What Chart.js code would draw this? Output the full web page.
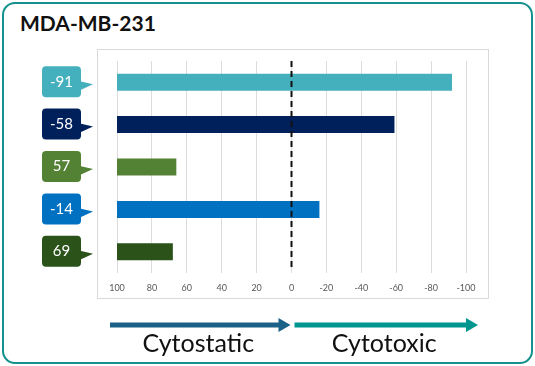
<!DOCTYPE html>
<html>
<head>
<meta charset="utf-8">
<script src="https://cdn.jsdelivr.net/npm/chart.js@4"></script>
<style>
  html, body { margin: 0; padding: 0; background: #fff; }
  body { width: 535px; height: 366px; position: relative; overflow: hidden; font-family: Lato, "Noto Sans", sans-serif; }
  .card { position: absolute; left: 2px; top: 2px; width: 527px; height: 358px; border: 2px solid #14918d; border-radius: 13px; }
  .title { position: absolute; left: 20px; top: 10px; font-size: 21px; font-weight: 700; color: #111; letter-spacing: 0; }
  #wrap { position: absolute; left: 0; top: 0; width: 535px; height: 366px; }
</style>
</head>
<body>
<div class="card"></div>
<div class="title">MDA-MB-231</div>
<div id="wrap"><canvas id="chart"></canvas></div>
<script>
const categories = ['A', 'B', 'C', 'D', 'E'];
const barValues = [-92, -59, 66, -16, 68];
const calloutLabels = ['-91', '-58', '57', '-14', '69'];
const colors = ['#45b0bd', '#00205b', '#548235', '#0070c0', '#2a5219'];
const xTicks = [100, 80, 60, 40, 20, 0, -20, -40, -60, -80, -100];
const arrowLabels = ['Cytostatic', 'Cytotoxic'];
const arrowColors = ['#1b6086', '#00968f'];

const extras = {
  id: 'extras',
  beforeDraw(chart) {
    const ctx = chart.ctx;
    ctx.save();
    ctx.strokeStyle = '#d9d9d9';
    ctx.lineWidth = 1;
    ctx.strokeRect(97.5, 49.5, 391, 249);
    ctx.restore();
  },
  afterDatasetsDraw(chart) {
    const ctx = chart.ctx;
    const x = chart.scales.x, y = chart.scales.y;
    const area = chart.chartArea;
    const x0 = x.getPixelForValue(0);

    // dashed zero line
    ctx.save();
    ctx.strokeStyle = '#111';
    ctx.lineWidth = 2;
    ctx.setLineDash([6, 4]);
    ctx.beginPath();
    ctx.moveTo(x0, area.top);
    ctx.lineTo(x0, area.bottom - 3);
    ctx.stroke();
    ctx.restore();

    // value callouts
    calloutLabels.forEach((txt, i) => {
      const yc = y.getPixelForValue(i);
      const left = 42, right = 81, top = yc - 16, bot = yc + 15;
      ctx.save();
      ctx.fillStyle = colors[i];
      ctx.beginPath();
      ctx.roundRect(left, top, right - left, bot - top, 4);
      ctx.fill();
      ctx.beginPath();
      ctx.moveTo(right - 1, yc - 1);
      ctx.lineTo(93, yc + 2);
      ctx.lineTo(right - 1, yc + 8);
      ctx.closePath();
      ctx.fill();
      ctx.fillStyle = '#fff';
      ctx.font = '15px Lato, "Noto Sans", sans-serif';
      ctx.textAlign = 'center';
      ctx.textBaseline = 'middle';
      ctx.fillText(txt, (left + right) / 2, yc - 0.5);
      ctx.restore();
    });

    // arrows below
    const ay = 325;
    const segs = [[110, x0 - 1], [x0 + 3, 478]];
    segs.forEach((s, i) => {
      ctx.save();
      ctx.fillStyle = arrowColors[i];
      ctx.fillRect(s[0], ay - 2.5, s[1] - 11 - s[0], 5);
      ctx.beginPath();
      ctx.moveTo(s[1] - 12, ay - 7);
      ctx.lineTo(s[1], ay);
      ctx.lineTo(s[1] - 12, ay + 7);
      ctx.closePath();
      ctx.fill();
      ctx.fillStyle = '#111';
      ctx.font = '25px Lato, "Noto Sans", sans-serif';
      ctx.textAlign = 'center';
      ctx.textBaseline = 'alphabetic';
      ctx.fillText(arrowLabels[i], (s[0] + s[1]) / 2 - 2, 352);
      ctx.restore();
    });
  }
};

new Chart(document.getElementById('chart'), {
  type: 'bar',
  data: {
    labels: categories,
    datasets: [{
      data: barValues.map(v => [100, v]),
      backgroundColor: colors,
      borderWidth: 0,
      barPercentage: 0.4,
      categoryPercentage: 1
    }]
  },
  options: {
    indexAxis: 'y',
    responsive: true,
    maintainAspectRatio: false,
    animation: false,
    layout: { padding: { left: 117, right: 69, top: 61, bottom: 67 } },
    scales: {
      x: {
        min: -100, max: 100, reverse: true,
        afterFit(scale) { scale.height = 26; },
        afterBuildTicks(scale) { scale.ticks = xTicks.map(v => ({ value: v })); },
        grid: { color: '#dcdcdc', lineWidth: 1, tickLength: 0, drawTicks: false },
        border: { display: false },
        ticks: { color: '#595959', font: { size: 9, family: 'Lato, "Noto Sans", sans-serif' }, padding: 10, maxRotation: 0 }
      },
      y: { display: false }
    },
    plugins: { legend: { display: false }, tooltip: { enabled: false } }
  },
  plugins: [extras]
});
</script>
</body>
</html>
